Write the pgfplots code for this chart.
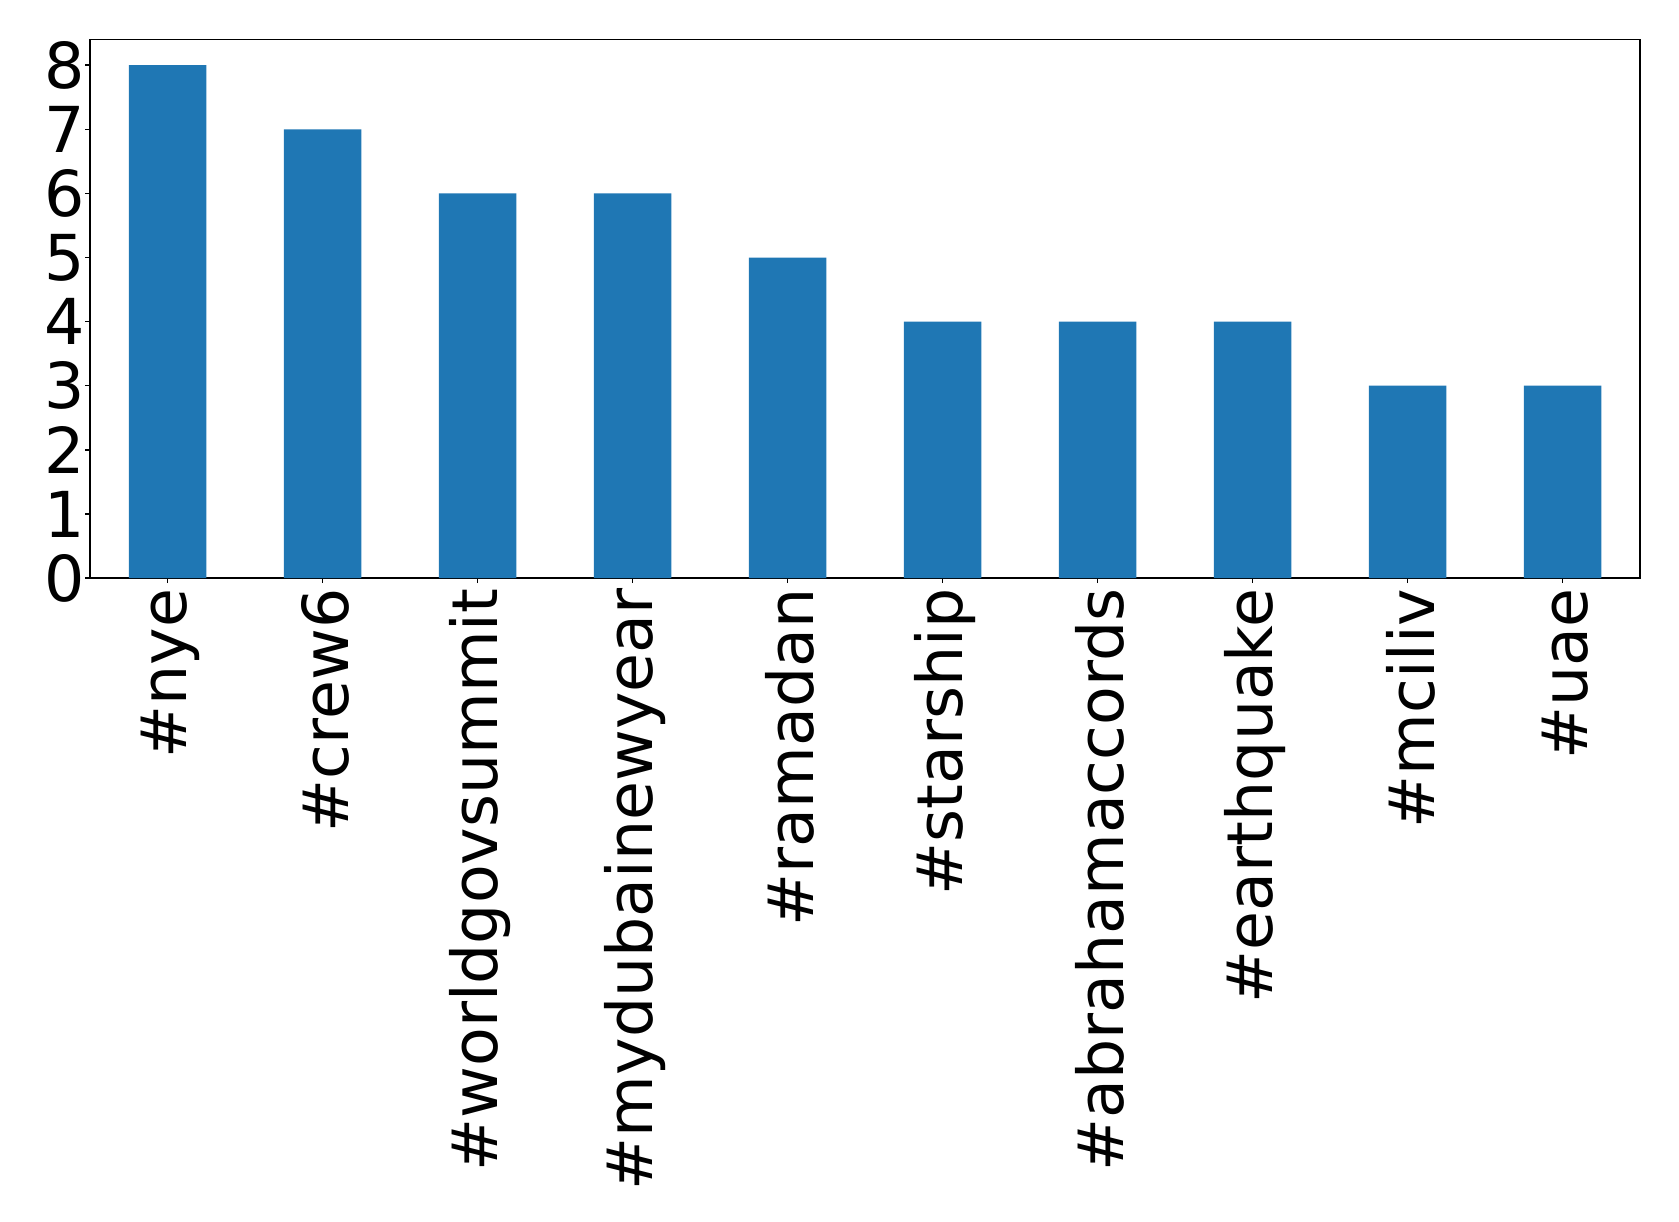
\documentclass[border=0pt]{standalone}
\usepackage{fontspec}
\setmainfont{DejaVu Sans}
\usepackage{pgfplots}
\pgfplotsset{compat=1.18}
\definecolor{mplblue}{HTML}{1F77B4}
\begin{document}
\begin{tikzpicture}
\path[use as bounding box] (-32.4pt,-231.5pt) rectangle (572.0pt,208.1pt);
\begin{axis}[
  at={(0,0)}, anchor=south west,
  scale only axis,
  width=558pt, height=193.9pt,
  xmin=-0.5, xmax=9.5,
  ymin=0, ymax=8.4,
  xtick={0,...,9},
  xticklabels={\#nye,\#crew6,\#worldgovsummit,\#mydubainewyear,\#ramadan,\#starship,\#abrahamaccords,\#earthquake,\#mciliv,\#uae},
  ytick={0,...,8},
  tick align=outside,
  tick pos=left,
  major tick length=1.8pt,
  tick style={black, line width=0.5pt},
  axis line style={line width=0.6pt},
  /pgf/number format/assume math mode=true,
  tick label style={font=\fontsize{22.8}{27}\selectfont},
  xticklabel style={rotate=90, anchor=east, inner sep=1pt, xshift=-0.8pt, yshift=-1pt},
  yticklabel style={inner sep=1pt, xshift=1pt},
]
\addplot[ybar, bar width=0.5, fill=mplblue, draw=none, bar shift=0pt] coordinates {
(0,8) (1,7) (2,6) (3,6) (4,5) (5,4) (6,4) (7,4) (8,3) (9,3)
};
\end{axis}
\end{tikzpicture}
\end{document}
